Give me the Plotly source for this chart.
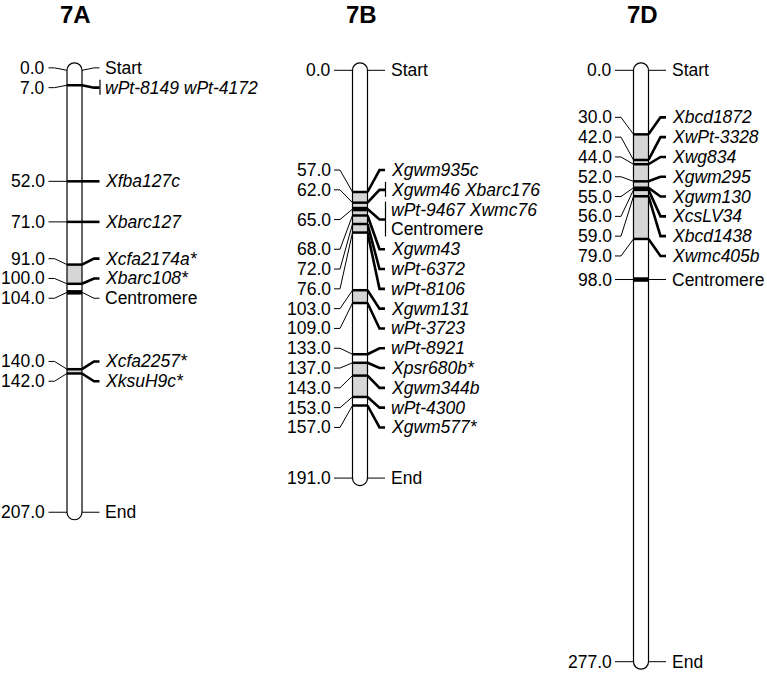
import plotly.graph_objects as go

# ---------------- data ----------------
chrom_names = ["7A", "7B", "7D"]

pos_7A = [0.0, 7.0, 52.0, 71.0, 91.0, 100.0, 104.0, 140.0, 142.0, 207.0]
lab_7A = ["Start", "wPt-8149 wPt-4172", "Xfba127c", "Xbarc127", "Xcfa2174a*",
          "Xbarc108*", "Centromere", "Xcfa2257*", "XksuH9c*", "End"]
shade_7A = [(91.0, 100.0), (140.0, 142.0)]

pos_7B = [0.0, 57.0, 62.0, 65.0, 65.0, 68.0, 72.0, 76.0, 103.0, 109.0,
          133.0, 137.0, 143.0, 153.0, 157.0, 191.0]
lab_7B = ["Start", "Xgwm935c", "Xgwm46 Xbarc176", "wPt-9467 Xwmc76", "Centromere",
          "Xgwm43", "wPt-6372", "wPt-8106", "Xgwm131", "wPt-3723", "wPt-8921",
          "Xpsr680b*", "Xgwm344b", "wPt-4300", "Xgwm577*", "End"]
shade_7B = [(57.0, 76.0), (103.0, 109.0), (137.0, 153.0)]

pos_7D = [0.0, 30.0, 42.0, 44.0, 52.0, 55.0, 56.0, 59.0, 79.0, 98.0, 277.0]
lab_7D = ["Start", "Xbcd1872", "XwPt-3328", "Xwg834", "Xgwm295", "Xgwm130",
          "XcsLV34", "Xbcd1438", "Xwmc405b", "Centromere", "End"]
shade_7D = [(30.0, 79.0)]

# ---------------- layout constants ----------------
W, H = 767, 673
Y0_PX = 70.3          # pixel row of 0 cM
PX_PER_CM = 2.135
BAR_CENTERS = [74.5, 360.0, 641.0]
BAR_W = 15.0
LINE_SP_PX = 19.8
FONT = "Liberation Sans, Arial, sans-serif"
FS = 17.5
GRAY = "#d6d6d6"

d_cm = LINE_SP_PX / PX_PER_CM
px2cm = lambda p: p / PX_PER_CM
y_top = -Y0_PX / PX_PER_CM
y_bot = (H - Y0_PX) / PX_PER_CM


def layout_labels(pos, d):
    """Spread label lines apart (cluster centred on first/last locus)."""
    clusters = [[i] for i in range(len(pos))]

    def place(c):
        mid = (pos[c[0]] + pos[c[-1]]) / 2.0
        top = mid - (len(c) - 1) * d / 2.0
        return [top + k * d for k in range(len(c))]

    changed = True
    while changed:
        changed = False
        for j in range(len(clusters) - 1):
            a = place(clusters[j])
            b = place(clusters[j + 1])
            if b[0] - a[-1] < d - 1e-9:
                clusters[j] = clusters[j] + clusters[j + 1]
                del clusters[j + 1]
                changed = True
                break
    out = [0.0] * len(pos)
    for c in clusters:
        for i, y in zip(c, place(c)):
            out[i] = y
    return out


fig = go.Figure()
shapes_under, shapes_mid, shapes_top = [], [], []
annotations = []

k = 0.5523
chroms = [(pos_7A, lab_7A, shade_7A), (pos_7B, lab_7B, shade_7B), (pos_7D, lab_7D, shade_7D)]

for ci, (pos, labs, shades) in enumerate(chroms):
    c = BAR_CENTERS[ci]
    xl, xr = c - BAR_W / 2, c + BAR_W / 2
    r = BAR_W / 2
    rc = px2cm(r)
    L = max(pos)
    path = (f"M {xl},0 C {xl},{-k*rc} {c-k*r},{-rc} {c},{-rc} "
            f"C {c+k*r},{-rc} {xr},{-k*rc} {xr},0 L {xr},{L} "
            f"C {xr},{L+k*rc} {c+k*r},{L+rc} {c},{L+rc} "
            f"C {c-k*r},{L+rc} {xl},{L+k*rc} {xl},{L} Z")
    shapes_under.append(dict(type="path", path=path, xref="x", yref="y",
                             fillcolor="white", line=dict(width=0)))
    shapes_top.append(dict(type="path", path=path, xref="x", yref="y",
                           fillcolor="rgba(0,0,0,0)", line=dict(color="black", width=1.2)))
    for (a, b) in shades:
        shapes_mid.append(dict(type="rect", xref="x", yref="y", x0=xl, x1=xr, y0=a, y1=b,
                               fillcolor=GRAY, line=dict(width=0)))
    # bands
    for p, lb in zip(pos, labs):
        if lb in ("Start", "End"):
            continue
        wdt = 4.5 if lb == "Centromere" else 2.5
        shapes_mid.append(dict(type="line", xref="x", yref="y", x0=xl, x1=xr, y0=p, y1=p,
                               line=dict(color="black", width=wdt)))

    ly = layout_labels(pos, d_cm)

    # groups of identical positions
    groups = []
    for i, p in enumerate(pos):
        if groups and abs(pos[groups[-1][0]] - p) < 1e-9:
            groups[-1].append(i)
        else:
            groups.append([i])

    thin_x, thin_y, thick_x, thick_y = [], [], [], []
    for g in groups:
        p = pos[g[0]]
        gy = sum(ly[i] for i in g) / len(g)
        # left connector + number
        thin_x += [xl - 18.5, xl - 12.5, xl, None]
        thin_y += [gy, gy, p, None]
        annotations.append(dict(x=xl - 20, y=gy, xref="x", yref="y", text=f"{p:.1f}",
                                showarrow=False, xanchor="right", yanchor="middle",
                                font=dict(family=FONT, size=FS, color="black")))
        plain = all(labs[i] in ("Start", "End", "Centromere") for i in g)
        tx = [xr, xr + 12, xr + 17.5, None]
        ty = [p, gy, gy, None]
        if plain:
            thin_x += tx; thin_y += ty
        else:
            thick_x += tx; thick_y += ty
        multi = len(g) > 1 or (" " in labs[g[0]] and labs[g[0]] not in ("Centromere",))
        if multi:
            b0 = ly[g[0]] - px2cm(8)
            b1 = ly[g[-1]] + px2cm(7)
            shapes_top.append(dict(type="line", xref="x", yref="y", x0=xr + 18, x1=xr + 18,
                                   y0=b0, y1=b1, line=dict(color="black", width=1.2)))
        for i in g:
            lb = labs[i]
            txt = lb if lb in ("Start", "End", "Centromere") else f"<i>{lb}</i>"
            annotations.append(dict(x=xr + 21, y=ly[i], xref="x", yref="y", text=txt,
                                    showarrow=False, xanchor="left", yanchor="middle",
                                    font=dict(family=FONT, size=FS, color="black")))

    fig.add_trace(go.Scatter(x=thin_x, y=thin_y, mode="lines", hoverinfo="skip",
                             line=dict(color="black", width=1), showlegend=False))
    fig.add_trace(go.Scatter(x=thick_x, y=thick_y, mode="lines", hoverinfo="skip",
                             line=dict(color="black", width=2.6), showlegend=False))

    annotations.append(dict(x=c + 1, y=px2cm(14 - Y0_PX), xref="x", yref="y",
                            text=f"<b>{chrom_names[ci]}</b>", showarrow=False,
                            xanchor="center", yanchor="middle",
                            font=dict(family=FONT, size=24, color="black")))

fig.update_layout(
    width=W, height=H,
    margin=dict(l=0, r=0, t=0, b=0),
    paper_bgcolor="white", plot_bgcolor="white",
    xaxis=dict(range=[0, W], visible=False, fixedrange=True),
    yaxis=dict(range=[y_bot, y_top], visible=False, fixedrange=True),
    shapes=shapes_under + shapes_mid + shapes_top,
    annotations=annotations,
    showlegend=False,
)

fig.write_html("out.html", config={"displayModeBar": False},
               post_script="document.body.style.margin='0';document.body.style.overflow='hidden';")
